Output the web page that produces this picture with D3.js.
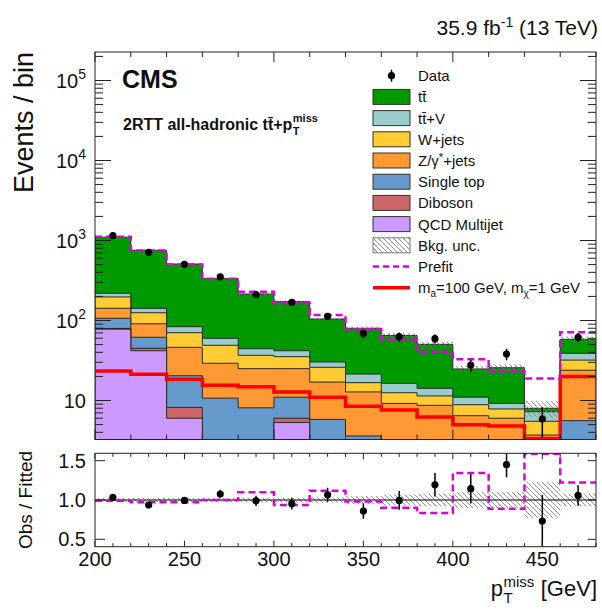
<!DOCTYPE html>
<html><head><meta charset="utf-8">
<script src="https://cdn.jsdelivr.net/npm/d3@7"></script>
<style>body{margin:0;background:#fff} svg{display:block} text{font-family:"Liberation Sans",Arial,Helvetica,sans-serif;fill:#111}</style>
</head><body><svg id="c" width="602" height="611"></svg>
<script>
// ---------------- data ----------------
const binEdges = [200,220,240,260,280,300,320,340,360,380,400,420,440,460,480];
const qcd       = [78, 41.9, 6.0, 0, 0, 5.3, 0, 0, 0, 0, 0, 0, 0, 0];
const diboson   = [1.5, 3, 2.2, 0, 0, 0.7, 0, 0, 0, 0, 0, 0, 0, 0];
const singleTop = [27, 16.8, 12.2, 10.7, 8.1, 5, 5.8, 3.6, 0, 0, 0, 0, 0, 5.6];
const zjets     = [35.5, 29.3, 25.8, 18.5, 16.9, 14, 11.2, 9.2, 9.2, 8.7, 6.46, 6.0, 3.7, 18.3];
const wjets     = [55, 34, 24.2, 19.8, 11.7, 10.3, 9, 3.9, 3.3, 2.7, 2.4, 1.83, 1.8, 8.1];
const ttv       = [22, 17, 13.3, 10.9, 7.7, 6.6, 4.3, 4.7, 3.9, 2.8, 2.14, 1.37, 1.74, 6.9];
const ttbar     = [881, 613, 424, 273, 170, 130, 74, 58.6, 48.6, 36.2, 13.8, 16.5, 0.76, 19.3];
const dataVals  = [1148, 711, 505, 352, 210, 169, 113, 69, 62.7, 59.2, 27.8, 38, 5.87, 61.7];
const dataErr   = [34, 27, 22, 19, 14.5, 13, 10.6, 8.3, 7.9, 7.7, 5.3, 6.2, 2.4, 7.9];
const prefit    = [1117, 750, 500, 333, 229, 166, 117, 77.5, 58, 40.7, 32.7, 23.2, 18.9, 71.2];
const signal    = [23.4, 21.3, 18.4, 15.5, 14.9, 12.8, 11, 8.5, 7.6, 6.2, 4.98, 4.8, 3.35, 20];
const relUnc    = [0.025, 0.025, 0.025, 0.025, 0.03, 0.03, 0.035, 0.05, 0.07, 0.08, 0.1, 0.1, 0.23, 0.08];
const ratioData = [1.033, 0.936, 0.995, 1.076, 0.99, 0.953, 1.067, 0.86, 0.995, 1.194, 1.144, 1.449, 0.733, 1.058];
const ratioErr  = [0.03, 0.035, 0.04, 0.055, 0.065, 0.075, 0.09, 0.1, 0.12, 0.15, 0.19, 0.16, 0.33, 0.13];
const ratioPrefit = [0.99, 0.97, 0.97, 1.0, 1.097, 0.936, 1.118, 0.98, 0.9, 0.835, 1.343, 0.89, 2.36, 1.224];
const xMajorMain = [200, 300, 400];
const xLabels = [200, 250, 300, 350, 400, 450];
const yDecades = [1, 2, 3, 4, 5];
const ratioTicks = [0.5, 1.0, 1.5];
const ratioTickLabels = ["0.5", "1.0", "1.5"];

const processes = [
  {name:"QCD Multijet", vals:qcd, color:"#cc99ff"},
  {name:"Diboson", vals:diboson, color:"#cc6666"},
  {name:"Single top", vals:singleTop, color:"#6699cc"},
  {name:"Z/γ*+jets", vals:zjets, color:"#ff9933"},
  {name:"W+jets", vals:wjets, color:"#ffcc33"},
  {name:"tt̄+V", vals:ttv, color:"#99cccc"},
  {name:"tt̄", vals:ttbar, color:"#009900"}
];

// ---------------- layout ----------------
const L = 95, R = 596, T = 52, B = 439.5, RT = 453.3, RB = 546.7;
const svg = d3.select("#c");
const x = d3.scaleLinear().domain([200, 480]).range([L, R]);
const yMin = Math.pow(10, 1 - (B - 400.5) / 80), yMax = Math.pow(10, 1 + (400.5 - T) / 80);
const y = d3.scaleLog().domain([yMin, yMax]).range([B, T]);
const yr = d3.scaleLinear().domain([0.406, 1.594]).range([RB, RT]);

const defs = svg.append("defs");
defs.append("clipPath").attr("id","clipMain").append("rect").attr("x",L).attr("y",T).attr("width",R-L).attr("height",B-T);
defs.append("clipPath").attr("id","clipRatio").append("rect").attr("x",L).attr("y",RT).attr("width",R-L).attr("height",RB-RT);
const pat = defs.append("pattern").attr("id","hatch").attr("patternUnits","userSpaceOnUse").attr("width",5).attr("height",5);
pat.append("path").attr("d","M-1,-1 L6,6 M-1,4 L1,6 M4,-1 L6,1").attr("stroke","#777").attr("stroke-width",0.8);

const nb = binEdges.length - 1;
const cy = v => y(Math.max(v, yMin));
function stepPts(vals, fy) {
  const p = [];
  for (let i = 0; i < nb; i++) { p.push([x(binEdges[i]), fy(vals[i])]); p.push([x(binEdges[i+1]), fy(vals[i])]); }
  return p;
}
const line = d3.line();

// ---------------- main panel ----------------
const gm = svg.append("g").attr("clip-path","url(#clipMain)");
const cum = [];
let run = new Array(nb).fill(0);
processes.forEach(p => { run = run.map((v,i) => v + p.vals[i]); cum.push(run.slice()); });
const total = cum[cum.length-1];
for (let k = processes.length - 1; k >= 0; k--) {
  const pts = stepPts(cum[k], cy);
  const d = "M" + x(200) + "," + B + "L" + pts.map(q => q.join(",")).join("L") + "L" + x(480) + "," + B + "Z";
  gm.append("path").attr("d", d).attr("fill", processes[k].color).attr("stroke","#2a2a2a").attr("stroke-width",1);
}
for (let i = 0; i < nb; i++) {
  const lo = total[i]*(1-relUnc[i]), hi = total[i]*(1+relUnc[i]);
  gm.append("rect").attr("x", x(binEdges[i])).attr("width", x(binEdges[i+1]) - x(binEdges[i]))
    .attr("y", cy(hi)).attr("height", cy(lo) - cy(hi)).attr("fill","url(#hatch)");
}
gm.append("path").attr("d", line(stepPts(signal, cy))).attr("fill","none").attr("stroke","#ff0000").attr("stroke-width",3.5);
gm.append("path").attr("d", line(stepPts(prefit, cy))).attr("fill","none").attr("stroke","#dd00dd").attr("stroke-width",2.5).attr("stroke-dasharray","7,4");
for (let i = 0; i < nb; i++) {
  const xc = x((binEdges[i]+binEdges[i+1])/2);
  gm.append("line").attr("x1",xc).attr("x2",xc).attr("y1",cy(dataVals[i]+dataErr[i])).attr("y2",cy(dataVals[i]-dataErr[i])).attr("stroke","#000").attr("stroke-width",1.5);
  gm.append("circle").attr("cx",xc).attr("cy",cy(dataVals[i])).attr("r",3.6).attr("fill","#000");
}

// ---------------- ratio panel ----------------
const gr = svg.append("g").attr("clip-path","url(#clipRatio)");
for (let i = 0; i < nb; i++) {
  gr.append("rect").attr("x", x(binEdges[i])).attr("width", x(binEdges[i+1]) - x(binEdges[i]))
    .attr("y", yr(1+relUnc[i])).attr("height", yr(1-relUnc[i]) - yr(1+relUnc[i])).attr("fill","url(#hatch)");
}
gr.append("line").attr("x1",L).attr("x2",R).attr("y1",yr(1)).attr("y2",yr(1)).attr("stroke","#000").attr("stroke-width",1.2);
const ryc = v => yr(Math.min(Math.max(v, 0.41), 1.588));
gr.append("path").attr("d", line(stepPts(ratioPrefit, ryc))).attr("fill","none").attr("stroke","#dd00dd").attr("stroke-width",2.5).attr("stroke-dasharray","7,4");
for (let i = 0; i < nb; i++) {
  const xc = x((binEdges[i]+binEdges[i+1])/2);
  gr.append("line").attr("x1",xc).attr("x2",xc).attr("y1",yr(ratioData[i]+ratioErr[i])).attr("y2",yr(ratioData[i]-ratioErr[i])).attr("stroke","#000").attr("stroke-width",1.5);
  gr.append("circle").attr("cx",xc).attr("cy",yr(ratioData[i])).attr("r",3.6).attr("fill","#000");
}

// ---------------- frames & ticks ----------------
const ga = svg.append("g").attr("stroke","#222").attr("stroke-width",1);
function vt(xp, y0, len) { ga.append("line").attr("x1",xp).attr("x2",xp).attr("y1",y0).attr("y2",y0+len); }
function ht(yp, x0, len) { ga.append("line").attr("x1",x0).attr("x2",x0+len).attr("y1",yp).attr("y2",yp); }
binEdges.forEach(v => { const big = xMajorMain.includes(v); vt(x(v), B, big?-10:-5); vt(x(v), T, big?10:5); });
yDecades.forEach(k => { const v = Math.pow(10,k); ht(y(v), L, 16); ht(y(v), R, -16); });
for (let k = 0; k <= 5; k++) for (let m = 2; m <= 9; m++) {
  const v = m*Math.pow(10,k); if (v > yMin && v < yMax) { ht(y(v), L, 8); ht(y(v), R, -8); }
}
d3.range(200, 481, 10).forEach(v => { const big = xLabels.includes(v); vt(x(v), RB, big?-6:-3.5); vt(x(v), RT, big?6:3.5); });
ratioTicks.forEach(v => { ht(yr(v), L, 10); ht(yr(v), R, -8); });
ga.append("rect").attr("x",L).attr("y",T).attr("width",R-L).attr("height",B-T).attr("fill","none");
ga.append("rect").attr("x",L).attr("y",RT).attr("width",R-L).attr("height",RB-RT).attr("fill","none");

// ---------------- tick labels ----------------
xLabels.forEach(v => svg.append("text").attr("x",x(v)).attr("y",566).attr("text-anchor","middle").attr("font-size",20).text(v));
yDecades.forEach(k => {
  const t = svg.append("text").attr("x",86).attr("y",y(Math.pow(10,k))+7.5).attr("text-anchor","end").attr("font-size",20).text("10");
  if (k > 1) t.append("tspan").attr("dy",-9).attr("font-size",14).text(k);
});
ratioTicks.forEach((v,i) => svg.append("text").attr("x",86).attr("y",yr(v)+7).attr("text-anchor","end").attr("font-size",20).text(ratioTickLabels[i]));

// ---------------- axis titles ----------------
svg.append("text").attr("transform","translate(33,52) rotate(-90)").attr("text-anchor","end").attr("font-size",27).text("Events / bin");
svg.append("text").attr("transform","translate(32,500) rotate(-90)").attr("text-anchor","middle").attr("font-size",19).text("Obs / Fitted");
{
  const g = svg.append("g");
  const p = g.append("text").attr("x",0).attr("y",0).attr("font-size",22).text("p");
  const w = p.node().getComputedTextLength();
  const sup = g.append("text").attr("x",w+0.5).attr("y",-9).attr("font-size",15).text("miss");
  g.append("text").attr("x",w+0.5).attr("y",7).attr("font-size",15).text("T");
  const ws = sup.node().getComputedTextLength();
  const rest = g.append("text").attr("x",w+ws+7).attr("y",0).attr("font-size",22).text("[GeV]");
  const wt = w + ws + 7 + rest.node().getComputedTextLength();
  g.attr("transform",`translate(${597-wt},596)`);
}
{
  const t = svg.append("text").attr("x",598).attr("y",35).attr("text-anchor","end").attr("font-size",21);
  t.append("tspan").text("35.9 fb");
  t.append("tspan").attr("dy",-8).attr("font-size",14).text("-1");
  t.append("tspan").attr("dy",8).text(" (13 TeV)");
}
svg.append("text").attr("x",122).attr("y",88).attr("font-size",25).attr("font-weight","bold").text("CMS");
{
  const g = svg.append("g").attr("transform","translate(123,130)");
  const t = g.append("text").attr("font-size",16).attr("font-weight","bold").text("2RTT all-hadronic tt̄+p");
  const w = t.node().getComputedTextLength();
  g.append("text").attr("x",w+0.5).attr("y",-8).attr("font-size",11).attr("font-weight","bold").text("miss");
  g.append("text").attr("x",w+0.5).attr("y",5).attr("font-size",11).attr("font-weight","bold").text("T");
}

// ---------------- legend ----------------
const lg = svg.append("g");
const ly = i => 75.7 + i*21.2;
const bx = 373, bw = 37, bh = 15, tx = 418;
function ltext(i) { return lg.append("text").attr("x",tx).attr("y",ly(i)+5.5).attr("font-size",15); }
lg.append("line").attr("x1",bx+bw/2).attr("x2",bx+bw/2).attr("y1",ly(0)-6).attr("y2",ly(0)+6).attr("stroke","#000").attr("stroke-width",1.5);
lg.append("circle").attr("cx",bx+bw/2).attr("cy",ly(0)).attr("r",3.6).attr("fill","#000");
ltext(0).text("Data");
const legendOrder = [6,5,4,3,2,1,0];
legendOrder.forEach((k, j) => {
  const i = j + 1;
  lg.append("rect").attr("x",bx).attr("y",ly(i)-bh/2).attr("width",bw).attr("height",bh).attr("fill",processes[k].color).attr("stroke","#333").attr("stroke-width",1);
  const t = ltext(i);
  if (processes[k].name === "Z/γ*+jets") {
    t.append("tspan").text("Z/γ");
    t.append("tspan").attr("dy",-5).attr("font-size",11).text("*");
    t.append("tspan").attr("dy",5).text("+jets");
  } else t.text(processes[k].name);
});
lg.append("rect").attr("x",bx).attr("y",ly(8)-bh/2).attr("width",bw).attr("height",bh).attr("fill","url(#hatch)").attr("stroke","#777").attr("stroke-width",1);
ltext(8).text("Bkg. unc.");
lg.append("line").attr("x1",bx).attr("x2",bx+bw).attr("y1",ly(9)).attr("y2",ly(9)).attr("stroke","#dd00dd").attr("stroke-width",2.5).attr("stroke-dasharray","6,4");
ltext(9).text("Prefit");
lg.append("line").attr("x1",bx).attr("x2",bx+bw).attr("y1",ly(10)).attr("y2",ly(10)).attr("stroke","#ff0000").attr("stroke-width",3.5);
{
  const t = ltext(10);
  t.append("tspan").text("m");
  t.append("tspan").attr("dy",4).attr("font-size",10).text("a");
  t.append("tspan").attr("dy",-4).text("=100 GeV, m");
  t.append("tspan").attr("dy",4).attr("font-size",10).text("χ");
  t.append("tspan").attr("dy",-4).text("=1 GeV");
}
</script></body></html>
